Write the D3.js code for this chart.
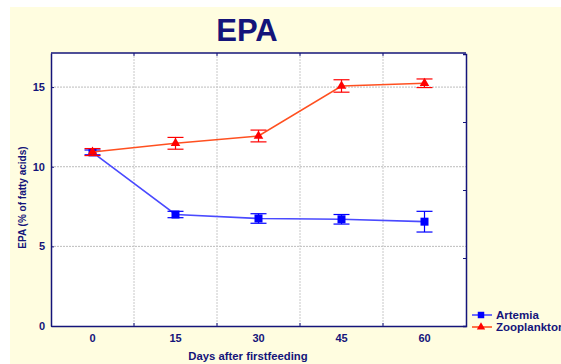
<!DOCTYPE html>
<html>
<head>
<meta charset="utf-8">
<script src="https://cdn.jsdelivr.net/npm/d3@7/dist/d3.min.js"></script>
<style>
  html, body { margin: 0; padding: 0; background: #ffffff; }
  svg { display: block; font-family: "Liberation Sans", Arial, sans-serif; }
</style>
</head>
<body>
<svg id="chart" width="561" height="364"></svg>
<script>
// EPA content over days after first feeding, two feeding regimes
const days = ["0", "15", "30", "45", "60"];
const artemiaMean = [10.9, 7.0, 6.75, 6.7, 6.55];
const artemiaErr = [0.15, 0.2, 0.3, 0.3, 0.65];
const zooMean = [10.92, 11.47, 11.93, 15.07, 15.24];
const zooErr = [0.22, 0.37, 0.37, 0.39, 0.27];
const yTicks = [0, 5, 10, 15];
const seriesNames = ["Artemia", "Zooplankton"];

const navy = "#14147a";
const svg = d3.select("#chart");

// pale panel background
svg.append("rect").attr("x", 10).attr("y", 7).attr("width", 551).attr("height", 357)
  .attr("fill", "#fffde0");

const plot = { left: 51, top: 53, right: 466, bottom: 326 };

const x = d3.scaleBand().domain(days).range([plot.left, plot.right]).padding(0);
const y = d3.scaleLinear().domain([0, 17.14]).range([plot.bottom, plot.top]);

// plot area
svg.append("rect").attr("x", plot.left).attr("y", plot.top)
  .attr("width", plot.right - plot.left).attr("height", plot.bottom - plot.top)
  .attr("fill", "#ffffff");

// grid: horizontal at y ticks, vertical at band boundaries
const bounds = days.slice(1).map(d => x(d));
svg.append("g").selectAll("line").data(yTicks.filter(t => t > 0)).join("line")
  .attr("x1", plot.left).attr("x2", plot.right)
  .attr("y1", d => y(d)).attr("y2", d => y(d))
  .attr("stroke", "#bcbcbc").attr("stroke-width", 1).attr("stroke-dasharray", "2,1");
svg.append("g").selectAll("line").data(bounds).join("line")
  .attr("x1", d => d).attr("x2", d => d)
  .attr("y1", plot.top).attr("y2", plot.bottom)
  .attr("stroke", "#c8c8c8").attr("stroke-width", 1).attr("stroke-dasharray", "2,1");

// axes
const axisStyle = (g, fs) => {
  g.selectAll("path.domain").attr("stroke", navy).attr("stroke-width", 1.5);
  g.selectAll(".tick line").attr("stroke", navy);
  g.selectAll(".tick text").attr("fill", navy).attr("font-weight", "bold").attr("font-size", fs);
};

const yAxis = svg.append("g").attr("transform", `translate(${plot.left},0)`)
  .call(d3.axisLeft(y).tickValues(yTicks).tickSize(-3).tickPadding(6).tickSizeOuter(0));
axisStyle(yAxis, 11);

const xAxis = svg.append("g").attr("transform", `translate(0,${plot.bottom})`)
  .call(d3.axisBottom(x).tickSize(0).tickPadding(8));
axisStyle(xAxis, 11);
// inward ticks at band boundaries on bottom and top
svg.append("g").selectAll("line").data(bounds).join("line")
  .attr("x1", d => d).attr("x2", d => d)
  .attr("y1", plot.bottom).attr("y2", plot.bottom - 3).attr("stroke", navy);
svg.append("g").selectAll("line").data(bounds).join("line")
  .attr("x1", d => d).attr("x2", d => d)
  .attr("y1", plot.top).attr("y2", plot.top + 3).attr("stroke", navy);

// top and right frame
svg.append("line").attr("x1", plot.left).attr("x2", plot.right)
  .attr("y1", plot.top).attr("y2", plot.top).attr("stroke", navy).attr("stroke-width", 1.5);
const yRight = d3.scaleLinear().domain([0, 4]).range([plot.bottom, plot.top + 1]);
const rAxis = svg.append("g").attr("transform", `translate(${plot.right},0)`)
  .call(d3.axisRight(yRight).ticks(4).tickSize(-3).tickFormat(""));
rAxis.selectAll("path.domain").attr("stroke", navy).attr("stroke-width", 1.5);
rAxis.selectAll(".tick line").attr("stroke", navy);

// titles
svg.append("text").attr("x", 247).attr("y", 41).attr("text-anchor", "middle")
  .attr("font-size", 31).attr("font-weight", "bold").attr("fill", navy).text("EPA");
svg.append("text").attr("transform", `translate(26,${(plot.top + plot.bottom) / 2 + 8}) rotate(-90)`)
  .attr("text-anchor", "middle").attr("font-size", 10).attr("font-weight", "bold")
  .attr("fill", navy).text("EPA (% of fatty acids)");
svg.append("text").attr("x", 248).attr("y", 360).attr("text-anchor", "middle")
  .attr("font-size", 11.3).attr("font-weight", "bold").attr("fill", navy)
  .text("Days after firstfeeding");

// series
const series = [
  { name: seriesNames[0], mean: artemiaMean, err: artemiaErr, line: "#4a4aff", mark: "#0000ff", symbol: d3.symbolSquare },
  { name: seriesNames[1], mean: zooMean, err: zooErr, line: "#ff5020", mark: "#ff0000", symbol: d3.symbolTriangle }
];
const cx = d => x(d) + x.bandwidth() / 2;

series.forEach(s => {
  const pts = days.map((d, i) => ({ d, v: s.mean[i], e: s.err[i] }));
  svg.append("path").datum(pts)
    .attr("fill", "none").attr("stroke", s.line).attr("stroke-width", 1.6)
    .attr("d", d3.line().x(p => cx(p.d)).y(p => y(p.v)));
  const eb = svg.append("g").attr("stroke", s.mark).attr("stroke-width", 1.2);
  eb.selectAll("line.v").data(pts).join("line").attr("class", "v")
    .attr("x1", p => cx(p.d)).attr("x2", p => cx(p.d))
    .attr("y1", p => y(p.v + p.e)).attr("y2", p => y(p.v - p.e));
  eb.selectAll("line.t").data(pts).join("line").attr("class", "t")
    .attr("x1", p => cx(p.d) - 8).attr("x2", p => cx(p.d) + 8)
    .attr("y1", p => y(p.v + p.e)).attr("y2", p => y(p.v + p.e));
  eb.selectAll("line.b").data(pts).join("line").attr("class", "b")
    .attr("x1", p => cx(p.d) - 8).attr("x2", p => cx(p.d) + 8)
    .attr("y1", p => y(p.v - p.e)).attr("y2", p => y(p.v - p.e));
  svg.append("g").selectAll("path").data(pts).join("path")
    .attr("transform", p => `translate(${cx(p.d)},${y(p.v)})`)
    .attr("d", d3.symbol().type(s.symbol).size(s.symbol === d3.symbolSquare ? 64 : 40))
    .attr("fill", s.mark);
});

// legend
series.forEach((s, i) => {
  const ly = 315 + i * 12;
  svg.append("line").attr("x1", 472).attr("x2", 492).attr("y1", ly).attr("y2", ly)
    .attr("stroke", s.line).attr("stroke-width", 1.6);
  svg.append("path").attr("transform", `translate(481,${ly})`)
    .attr("d", d3.symbol().type(s.symbol).size(s.symbol === d3.symbolSquare ? 42 : 30))
    .attr("fill", s.mark);
  svg.append("text").attr("x", 496).attr("y", ly + 4).attr("font-size", 11.5)
    .attr("font-weight", "bold").attr("fill", navy).text(s.name);
});
</script>
</body>
</html>
